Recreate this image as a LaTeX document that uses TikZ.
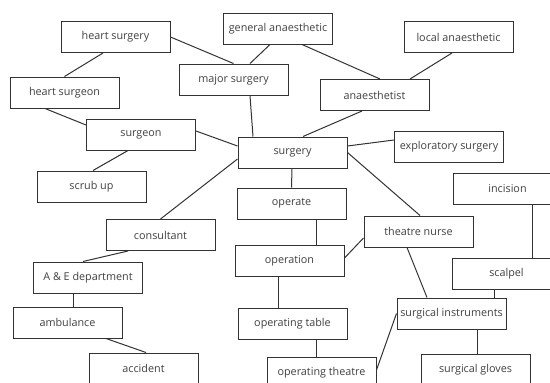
\documentclass[tikz,border=0pt]{standalone}
\usepackage{fontspec}
\setsansfont{Open Sans}
\usepackage{tikz}

\begin{document}
\begin{tikzpicture}[x=1pt, y=-1pt,
    box/.style={draw=black!80, line width=1pt, fill=white, minimum width=109pt, minimum height=31pt, inner sep=0pt, text=black!75, font=\sffamily\fontsize{10.8}{13}\selectfont},
    link/.style={draw=black!80, line width=1pt}]
    \clip (0, 0) rectangle (550, 383);
    \fill[white] (0, 0) rectangle (550, 383);
    \node[box] (hs) at (115.5, 37) {heart surgery};
    \node[box] (ga) at (278, 28.5) {general anaesthetic};
    \node[box] (la) at (458.5, 37) {local anaesthetic};
    \node[box] (hsn) at (64.5, 92.5) {heart surgeon};
    \node[box] (ms) at (233.5, 79.5) {major surgery};
    \node[box] (an) at (374.5, 95) {anaesthetist};
    \node[box] (sn) at (141, 134.5) {surgeon};
    \node[box] (sy) at (292.5, 152.5) {surgery};
    \node[box] (ex) at (449, 147) {exploratory surgery};
    \node[box] (sc) at (91.5, 186.5) {scrub up};
    \node[box] (inc) at (507.5, 188.5) {incision};
    \node[box] (op) at (291.5, 203.5) {operate};
    \node[box] (co) at (160.5, 235) {consultant};
    \node[box] (tn) at (418.5, 231.5) {theatre nurse};
    \node[box] (opn) at (289.5, 260.5) {operation};
    \node[box] (ae) at (88, 277.5) {A \& E department};
    \node[box] (sca) at (506.5, 273.5) {scalpel};
    \node[box] (amb) at (67.5, 322.5) {ambulance};
    \node[box] (ot) at (292.5, 323.5) {operating table};
    \node[box] (si) at (451.5, 313.5) {surgical instruments};
    \node[box] (acc) at (143.5, 368.5) {accident};
    \node[box] (oth) at (321.5, 372.5) {operating theatre};
    \node[box] (sg) at (475.5, 369.5) {surgical gloves};

    \draw[link] (hs.east) -- (ms.north);
    \draw[link] ([xshift=-12.5pt]hs.south) -- (hsn.north);
    \draw[link] ([xshift=-8pt]ga.south) -- ([xshift=16.5pt]ms.north);
    \draw[link] ([xshift=24pt]ga.south) -- ([xshift=5.5pt]an.north);
    \draw[link] ([xshift=-6.5pt]la.south) -- ([xshift=35.5pt]an.north);
    \draw[link] ([xshift=-19.5pt]hsn.south) -- ([yshift=9.5pt]sn.west);
    \draw[link] ([xshift=16.5pt]ms.south) -- ([xshift=-39.5pt]sy.north);
    \draw[link] ([xshift=-12.5pt]an.south) -- ([xshift=10.5pt]sy.north);
    \draw[link] ([yshift=3.5pt]sn.east) -- ([yshift=6.5pt]sy.west);
    \draw[link] ([xshift=-13pt]sn.south) -- ([xshift=1.5pt]sc.north);
    \draw[link] ([yshift=6.5pt]sy.east) -- ([yshift=7pt]ex.west);
    \draw[link] (sy.east) -- ([xshift=1.5pt]tn.north);
    \draw[link] ([yshift=-6.5pt]sy.west) -- (co.north);
    \draw[link] ([xshift=-0.5pt]sy.south) -- (op.north);
    \draw[link] ([xshift=24.5pt]op.south) -- ([xshift=26.5pt]opn.north);
    \draw[link] ([yshift=2.5pt]opn.east) -- ([yshift=-6.5pt]tn.west);
    \draw[link] ([xshift=-11.5pt]opn.south) -- ([xshift=-14.5pt]ot.north);
    \draw[link] ([xshift=-32.5pt]co.south) -- ([xshift=-5pt]ae.north);
    \draw[link] ([xshift=-15pt]ae.south) -- ([xshift=5.5pt]amb.north);
    \draw[link] ([xshift=38.5pt]amb.south) -- ([xshift=2.5pt]acc.north);
    \draw[link] ([xshift=23.5pt]ot.south) -- ([xshift=-5.5pt]oth.north);
    \draw[link] ([xshift=-11.5pt]tn.south) -- ([xshift=-24.5pt]si.north);
    \draw[link] ([yshift=2.5pt]oth.east) -- (si.west);
    \draw[link] ([xshift=24.5pt]inc.south) -- ([xshift=25.5pt]sca.north);
    \draw[link] ([xshift=-12.5pt]sca.south) -- ([xshift=42.5pt]si.north);
    \draw[link] ([xshift=25.5pt]si.south) -- ([xshift=1.5pt]sg.north);
\end{tikzpicture}
\end{document}
